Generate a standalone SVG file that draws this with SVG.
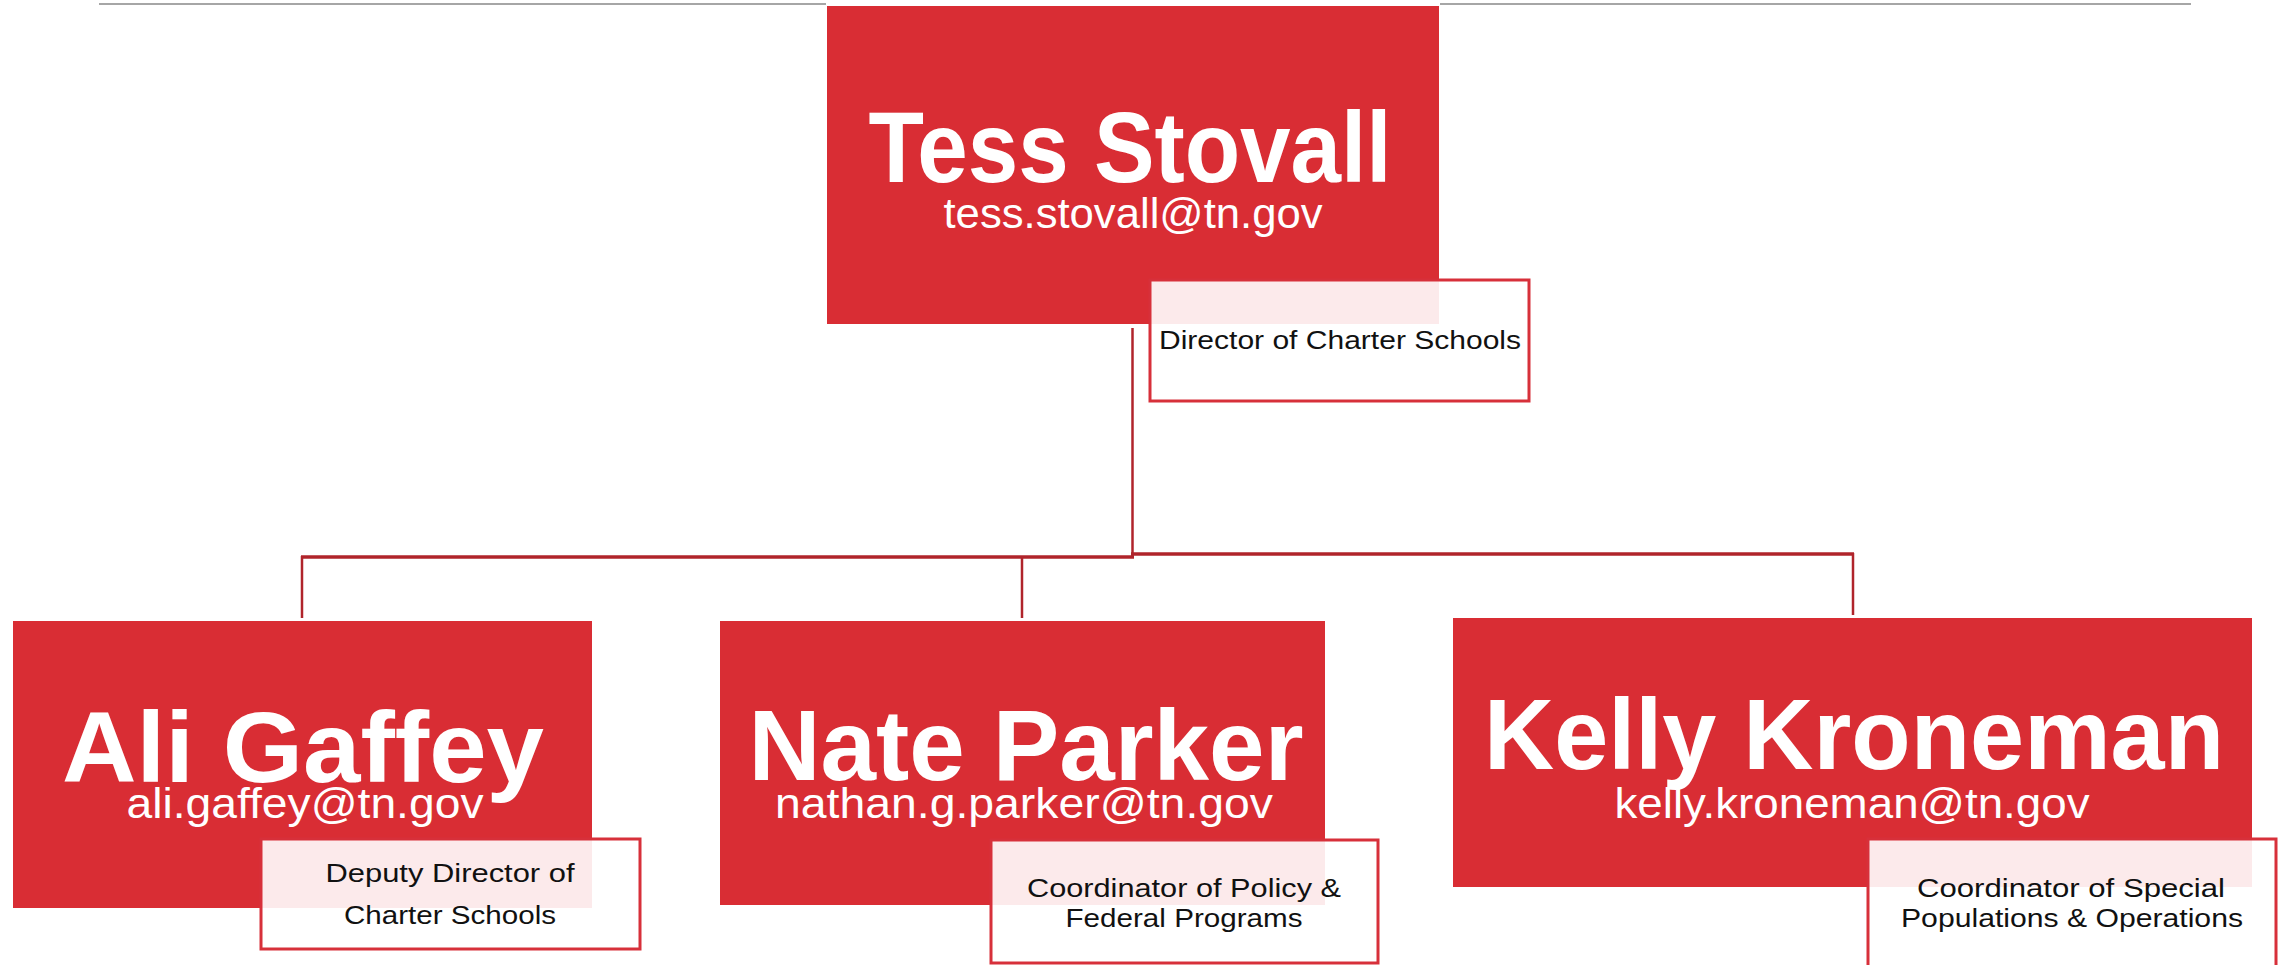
<svg xmlns="http://www.w3.org/2000/svg" width="2280" height="965" viewBox="0 0 2280 965">
  <style>
    .card { fill: #d92d34; }
    .role { fill: #ffffff; fill-opacity: 0.9; stroke: #d7303a; stroke-width: 3; }
    .name { font-family: "Liberation Sans", Arial, sans-serif; font-weight: bold; font-size: 100px; fill: #ffffff; text-anchor: middle; }
    .mail { font-family: "Liberation Sans", Arial, sans-serif; font-size: 42px; fill: #ffffff; text-anchor: middle; }
    .title { font-family: "Liberation Sans", Arial, sans-serif; font-size: 26px; fill: #111111; text-anchor: middle; }
    .link { fill: none; stroke: #b0242b; stroke-linecap: butt; }
    .rule { stroke: #a6a6a6; stroke-width: 2; }
  </style>

  <!-- header rule -->
  <g id="header-rule">
    <line class="rule" x1="99" y1="4" x2="826" y2="4"/>
    <line class="rule" x1="1440" y1="4" x2="2191" y2="4"/>
  </g>

  <!-- connectors -->
  <g id="connectors">
    <path class="link" stroke-width="2.5" d="M1132.5,328 V557"/>
    <path class="link" stroke-width="3.5" d="M301,557 H1134"/>
    <path class="link" stroke-width="3.5" d="M1131,554 H1854"/>
    <path class="link" stroke-width="2.5" d="M302,556 V618"/>
    <path class="link" stroke-width="2.5" d="M1022,556 V618"/>
    <path class="link" stroke-width="2.5" d="M1853,553 V615"/>
  </g>

  <!-- Tess Stovall -->
  <g id="node-tess-stovall">
    <rect class="card" x="827" y="6" width="612" height="318"/>
    <text class="name" x="1130" y="182" textLength="523" lengthAdjust="spacingAndGlyphs">Tess Stovall</text>
    <text class="mail" x="1133" y="228" textLength="379" lengthAdjust="spacingAndGlyphs">tess.stovall@tn.gov</text>
    <rect class="role" x="1150" y="280" width="379" height="121"/>
    <text class="title" x="1340" y="349" textLength="362" lengthAdjust="spacingAndGlyphs">Director of Charter Schools</text>
  </g>

  <!-- Ali Gaffey -->
  <g id="node-ali-gaffey">
    <rect class="card" x="13" y="621" width="579" height="287"/>
    <text class="name" x="303" y="782" textLength="482" lengthAdjust="spacingAndGlyphs">Ali Gaffey</text>
    <text class="mail" x="305" y="818" textLength="357" lengthAdjust="spacingAndGlyphs">ali.gaffey@tn.gov</text>
    <rect class="role" x="261" y="839" width="379" height="110"/>
    <text class="title" x="450" y="882" textLength="249" lengthAdjust="spacingAndGlyphs">Deputy Director of</text>
    <text class="title" x="450" y="924" textLength="212" lengthAdjust="spacingAndGlyphs">Charter Schools</text>
  </g>

  <!-- Nate Parker -->
  <g id="node-nate-parker">
    <rect class="card" x="720" y="621" width="605" height="284"/>
    <text class="name" x="1026" y="780" textLength="555" lengthAdjust="spacingAndGlyphs">Nate Parker</text>
    <text class="mail" x="1024" y="818" textLength="498" lengthAdjust="spacingAndGlyphs">nathan.g.parker@tn.gov</text>
    <rect class="role" x="991" y="840" width="387" height="123"/>
    <text class="title" x="1184" y="897" textLength="314" lengthAdjust="spacingAndGlyphs">Coordinator of Policy &amp;</text>
    <text class="title" x="1184" y="927" textLength="237" lengthAdjust="spacingAndGlyphs">Federal Programs</text>
  </g>

  <!-- Kelly Kroneman -->
  <g id="node-kelly-kroneman">
    <rect class="card" x="1453" y="618" width="799" height="269"/>
    <text class="name" x="1854" y="769" textLength="740" lengthAdjust="spacingAndGlyphs">Kelly Kroneman</text>
    <text class="mail" x="1852" y="818" textLength="475" lengthAdjust="spacingAndGlyphs">kelly.kroneman@tn.gov</text>
    <rect class="role" x="1868" y="839" width="408" height="140"/>
    <text class="title" x="2071" y="897" textLength="308" lengthAdjust="spacingAndGlyphs">Coordinator of Special</text>
    <text class="title" x="2072" y="927" textLength="342" lengthAdjust="spacingAndGlyphs">Populations &amp; Operations</text>
  </g>
</svg>
